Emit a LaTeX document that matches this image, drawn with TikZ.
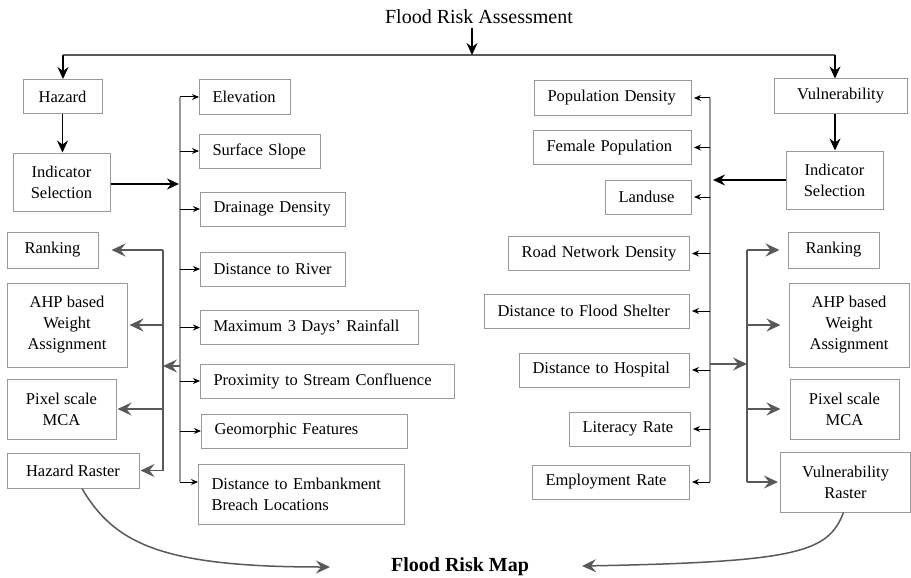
\documentclass[tikz,border=0pt]{standalone}
\usepackage{fontspec}
\setmainfont{Liberation Serif}
\usetikzlibrary{arrows.meta}
\usetikzlibrary{positioning}
\definecolor{mgray}{rgb}{0.6, 0.6, 0.6}
\definecolor{mdark}{rgb}{0.35, 0.35, 0.35}
\tikzset{box/.style = {draw = mgray, line width = 1pt, inner sep = 0pt, minimum height = 34pt, font = \fontsize{16.5}{21}\selectfont}}
\tikzset{factor/.style = {box, anchor = west, align = left, inner xsep = 13pt, text width = #1}}
\tikzset{stage/.style = {box, align = center}}
\tikzset{tip/.style = {-{Stealth[length = 7pt, width = 6pt]}, line width = 1pt}}
\tikzset{barrow/.style = {-{Stealth[length = 12pt, width = 11pt, inset = 4pt]}, line width = 1.5pt}}
\tikzset{garrow/.style = {mdark, -{Stealth[length = 14pt, width = 13pt, inset = 5pt]}, line width = 1.5pt}}
\tikzset{bus/.style = {mgray, line width = 1.5pt}}

\begin{document}
\begin{tikzpicture}[x=1pt, y=-1pt]
    \useasboundingbox (0, 0) rectangle (911, 578);

    \node [font = \fontsize{20}{24}\selectfont] (title) at (479, 17) {Flood Risk Assessment};
    \coordinate (split) at (472, 55);
    \coordinate (lsplit) at (63, 55);
    \coordinate (rsplit) at (835, 55);

    \node [stage, minimum width = 79pt] (haz) at (62.5, 96.5) {Hazard};
    \node [stage, minimum width = 97pt, minimum height = 58pt] (hind) at (61.5, 182) {Indicator\\Selection};
    \node [stage, minimum width = 133pt] (vul) at (840.5, 96) {Vulnerability};
    \node [stage, minimum width = 97pt, minimum height = 58pt] (vind) at (834.5, 180) {Indicator\\Selection};

    \draw [mdark, line width = 1.5pt] (lsplit) -- (rsplit);
    \draw [barrow] (title.south -| split) -- (split);
    \draw [barrow] (lsplit) -- (lsplit |- haz.north);
    \draw [barrow] (rsplit) -- (rsplit |- vul.north);
    \draw [barrow] (haz) -- (haz |- hind.north);
    \draw [barrow] (vul.south -| rsplit) -- (rsplit |- vind.north);

    % hazard indicators
    \node [factor = 65pt] (elev) at (199, 97) {Elevation};
    \node [factor = 95pt] (slope) at (199, 151) {Surface Slope};
    \node [factor = 119pt] (drain) at (200, 209) {Drainage Density};
    \node [factor = 119pt] (river) at (200, 269) {Distance to River};
    \node [factor = 192pt] (rain) at (200, 327.5) {Maximum 3 Days’ Rainfall};
    \node [factor = 228pt] (conf) at (200, 381) {Proximity to Stream Confluence};
    \node [factor = 180pt] (geo) at (201, 431) {Geomorphic Features};
    \node [factor = 180pt, minimum height = 60pt] (breach) at (198, 494) {Distance to Embankment\\Breach Locations};

    \coordinate (hbus) at (180, 97);
    \coordinate (hend) at (180, 482);
    \draw [bus] (hbus) -- (hend);
    \foreach \n in {elev, slope, drain, river, rain, conf, geo}{
      \draw [tip] (hbus |- \n.west) -- (\n.west);
    }
    \draw [tip] (hend) -- (hend -| breach.west);
    \draw [barrow, shorten >= 1pt] ([yshift = -2pt]hind.east) -- ([yshift = -2pt]hind.east -| hbus);

    % hazard steps
    \node [stage, minimum width = 91pt, minimum height = 36pt] (rankL) at (52.5, 250) {Ranking};
    \node [stage, minimum width = 120pt, minimum height = 84pt] (ahpL) at (67, 325) {AHP based\\Weight\\Assignment};
    \node [stage, minimum width = 109pt, minimum height = 60pt] (mcaL) at (61.5, 409) {Pixel scale\\MCA};
    \node [stage, minimum width = 132pt, minimum height = 35pt] (rasterL) at (73, 470.5) {Hazard Raster};

    \coordinate (hstage) at (163, 366);
    \coordinate (hcross) at (180, 366);
    \draw [garrow] (hcross) -- (hstage);
    \draw [mdark, line width = 1.5pt] (hstage |- rankL.east) -- (hstage |- rasterL.east);
    \foreach \n/\g in {rankL/13, ahpL/2, mcaL/1, rasterL/1}{
      \draw [garrow, shorten >= \g pt] (hstage |- \n.east) -- (\n.east);
    }

    % vulnerability indicators
    \node [factor = 131pt] (popd) at (534, 98) {Population Density};
    \node [factor = 132pt] (fem) at (533, 147.5) {Female Population};
    \node [factor = 60pt] (land) at (605, 197) {Landuse};
    \node [factor = 155pt] (road) at (508, 253.5) {Road Network Density};
    \node [factor = 179pt] (shelter) at (484, 311) {Distance to Flood Shelter};
    \node [factor = 144pt] (hosp) at (519, 370) {Distance to Hospital};
    \node [factor = 95pt] (lit) at (569, 429) {Literacy Rate};
    \node [factor = 131pt] (empl) at (532, 482) {Employment Rate};

    \coordinate (vbus) at (710, 98);
    \draw [bus] (vbus |- popd.east) -- (vbus |- empl.east);
    \foreach \n in {popd, fem, land, road, shelter, hosp, lit, empl}{
      \draw [tip, shorten >= 2pt] (vbus |- \n.east) -- (\n.east);
    }
    \draw [barrow, shorten >= 3pt] (vind.west) -- (vind.west -| vbus);

    % vulnerability steps
    \node [stage, minimum width = 91pt, minimum height = 36pt] (rankR) at (833.5, 250) {Ranking};
    \node [stage, minimum width = 120pt, minimum height = 84pt] (ahpR) at (849, 325) {AHP based\\Weight\\Assignment};
    \node [stage, minimum width = 109pt, minimum height = 60pt] (mcaR) at (844.5, 409) {Pixel scale\\MCA};
    \node [stage, minimum width = 130pt, minimum height = 60pt] (rasterR) at (845.5, 482) {Vulnerability\\Raster};

    \coordinate (vstage) at (747, 364);
    \coordinate (vcross) at (710, 364);
    \draw [garrow] (vcross) -- (vstage);
    \draw [mdark, line width = 1.5pt] (vstage |- rankR.west) -- (vstage |- rasterR.west);
    \foreach \n/\g in {rankR/8, ahpR/8, mcaR/9, rasterR/2}{
      \draw [garrow, shorten >= \g pt] (vstage |- \n.west) -- (\n.west);
    }

    % risk map
    \node [font = \bfseries\fontsize{20}{24}\selectfont] (map) at (460, 567) {Flood Risk Map};
    \coordinate (lmap) at (330, 567);
    \coordinate (rmap) at (582, 566);
    \draw [garrow] ([xshift = 9pt]rasterL.south) .. controls (115, 545) and (165, 567) .. (lmap);
    \draw [garrow] ([xshift = -2pt]rasterR.south) .. controls (828, 552) and (800, 562) .. (rmap);
  \end{tikzpicture}
\end{document}
